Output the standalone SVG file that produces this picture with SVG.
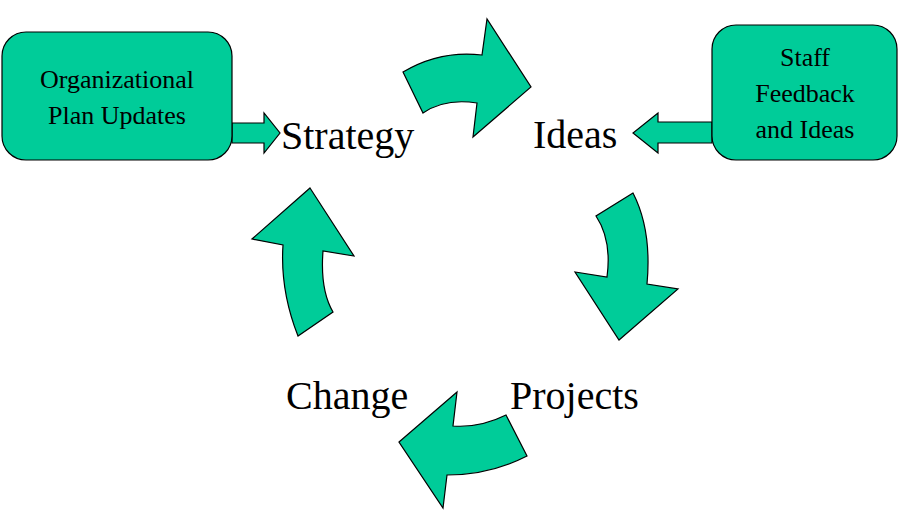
<svg xmlns="http://www.w3.org/2000/svg" width="899" height="530" viewBox="0 0 899 530">
<style>
.s{fill:#00cc99;stroke:#000;stroke-width:1.2}
.big{font-family:"Liberation Serif",serif;font-size:40px;fill:#000}
.sm{font-family:"Liberation Serif",serif;font-size:26px;fill:#000;text-anchor:middle}
</style>
<rect width="899" height="530" fill="#fff"/>
<g id="connectors">
<path class="s" d="M232,123 L264,123 L264,113 L280,133 L264,153 L264,143 L232,143 Z"/>
<path class="s" d="M712,122 L658,122 L658,113 L633,133 L658,153 L658,143 L712,143 Z"/>
<path class="s" d="M403,72 Q440,50 482,55 L487,19 L531,87 L473,137 L477,103 Q445,98 423,113 Z"/>
<path class="s" d="M633,193 L596,216 Q612,240 607,277 L575,272 L619,340 L678,289 L647,284 Q652,230 633,193 Z"/>
<path class="s" d="M399,442 L457,392 L453,426 Q480,428 506,415 L527,456 Q490,475 447,475 L443,508 Z"/>
<path class="s" d="M310,188 L354,256 L323,251 Q320,290 333,312 L298,336 Q280,290 283,245 L252,239 Z"/>
</g>
<g id="plan"><rect class="s" x="2" y="32" width="230" height="128" rx="24"/>
<text class="sm" x="117" y="88">Organizational</text><text class="sm" x="117" y="124">Plan Updates</text></g>
<g id="staff"><rect class="s" x="712" y="25" width="185" height="135" rx="24"/>
<text class="sm" x="805" y="66">Staff</text><text class="sm" x="805" y="102">Feedback</text><text class="sm" x="805" y="138">and Ideas</text></g>
<g id="strategy"><text class="big" x="281" y="149">Strategy</text></g>
<g id="ideas"><text class="big" x="533" y="148">Ideas</text></g>
<g id="projects"><text class="big" x="510" y="409">Projects</text></g>
<g id="change"><text class="big" x="286" y="409">Change</text></g>
</svg>
